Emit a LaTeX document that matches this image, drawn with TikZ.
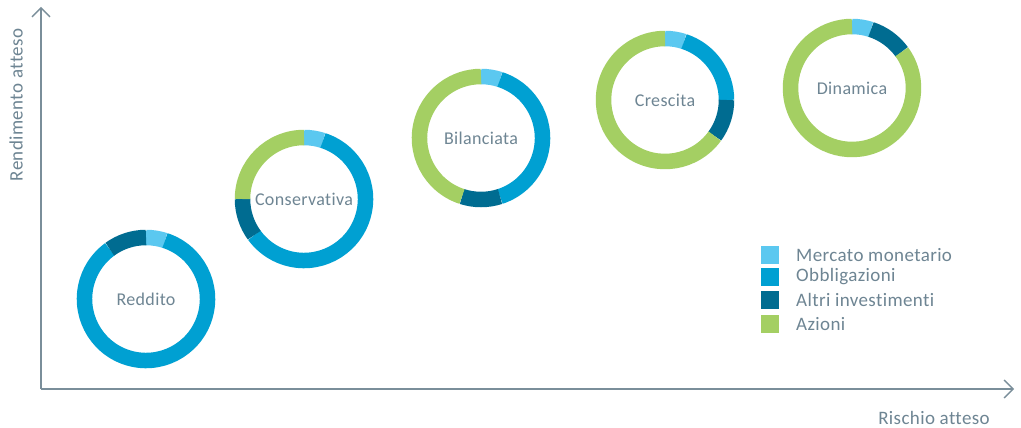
\documentclass[tikz,border=0pt]{standalone}
\usepackage{fontspec}
\setmainfont{Carlito}[Ligatures={NoCommon,NoRare}, RawFeature={-liga;-dlig;-clig}, LetterSpace=2]
\usetikzlibrary{arrows.meta}
\definecolor{mm}{HTML}{5BC8F0}
\definecolor{obb}{HTML}{00A0D2}
\definecolor{alt}{HTML}{006C91}
\definecolor{azi}{HTML}{A4CF63}
\definecolor{txt}{HTML}{6E8593}
\definecolor{axc}{HTML}{7A8E9A}
\newcommand\ringseg[4]{\draw[#4, line width=15.5pt] ([shift={(#2-90:61.5)}]#1) arc[start angle=#2-90, end angle=#3-90, radius=61.5];}
\tikzset{
  lbl/.style={text=txt, font=\fontsize{19}{22}\selectfont, inner sep=0pt},
  dlbl/.style={text=txt, font=\fontsize{18}{21}\selectfont, inner sep=0pt},
  legtxt/.style={text=txt, font=\fontsize{19}{22}\selectfont, inner sep=0pt, anchor=west},
  legbox/.style={minimum size=18pt, inner sep=0pt},
  axis/.style={draw=axc, line width=1.3pt, -{Straight Barb[length=9pt,width=18pt,line width=1.3pt]}}
}
\begin{document}
\begin{tikzpicture}[x=1pt,y=-1pt]
\fill[white] (0,0) rectangle (1021,428);
\useasboundingbox (0,0) rectangle (1021,428);
% axes
\coordinate (o) at (41,389);
\coordinate (ytop) at (41,7);
\coordinate (xend) at (1014,389);
\draw[axis] (o) -- (ytop);
\draw[axis] (o) -- (xend);
\node[lbl, rotate=90] (ylab) at (16,105) {Rendimento atteso};
\node[lbl] (xlab) at (934,418) {Rischio atteso};
% donuts
\node[dlbl] (reddito) at (146,299) {Reddito};
\ringseg{reddito.center}{0}{18}{mm}
\ringseg{reddito.center}{18}{324}{obb}
\ringseg{reddito.center}{324}{360}{alt}
\node[dlbl] (cons) at (304,199) {Conservativa};
\ringseg{cons.center}{0}{18}{mm}
\ringseg{cons.center}{18}{234}{obb}
\ringseg{cons.center}{234}{270}{alt}
\ringseg{cons.center}{270}{360}{azi}
\node[dlbl] (bil) at (481,138) {Bilanciata};
\ringseg{bil.center}{0}{18}{mm}
\ringseg{bil.center}{18}{162}{obb}
\ringseg{bil.center}{162}{198}{alt}
\ringseg{bil.center}{198}{360}{azi}
\node[dlbl] (cre) at (665,100) {Crescita};
\ringseg{cre.center}{0}{18}{mm}
\ringseg{cre.center}{18}{90}{obb}
\ringseg{cre.center}{90}{126}{alt}
\ringseg{cre.center}{126}{360}{azi}
\node[dlbl] (din) at (852,88) {Dinamica};
\ringseg{din.center}{0}{18}{mm}
\ringseg{din.center}{18}{54}{alt}
\ringseg{din.center}{54}{360}{azi}
% legend
\node[legbox, fill=mm] (k1) at (770,255) {};
\node[legbox, fill=obb] (k2) at (770,277) {};
\node[legbox, fill=alt] (k3) at (770,300) {};
\node[legbox, fill=azi] (k4) at (770,324) {};
\node[legtxt] (t1) at (796,255) {Mercato monetario};
\node[legtxt] (t2) at (796,277) {Obbligazioni};
\node[legtxt] (t3) at (796,300) {Altri investimenti};
\node[legtxt] (t4) at (796,324) {Azioni};
\end{tikzpicture}
\end{document}
